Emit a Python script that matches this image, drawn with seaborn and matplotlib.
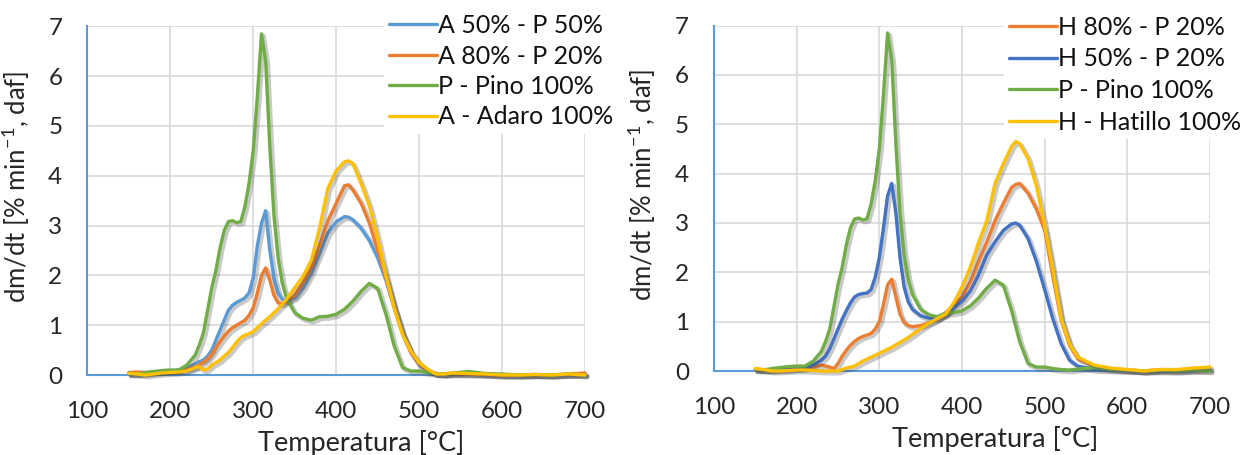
import numpy as np
import pandas as pd
import matplotlib
matplotlib.use("Agg")
import matplotlib.pyplot as plt
import matplotlib.patheffects as pe
from matplotlib.ticker import MultipleLocator
import seaborn as sns

# Temperature grid shared by all DTG curves [°C]
temperatura = [150, 160, 170, 180, 190, 200, 210, 220,
               230, 235, 240, 245, 250, 255, 260, 265, 270, 275, 280, 285,
               290, 295, 300, 305, 310, 315, 320, 325, 330, 335, 340,
               350, 360, 370, 380, 390, 400, 410, 415, 420, 430, 440, 450,
               460, 465, 470, 480, 490, 500, 510, 520, 530, 540,
               560, 580, 600, 620, 640, 660, 680, 700]

# dm/dt [% min-1, daf]
pino = [0.04, 0.02, 0.05, 0.07, 0.09, 0.10, 0.10, 0.20,
        0.40, 0.60, 0.85, 1.30, 1.75, 2.10, 2.55, 2.90, 3.08, 3.10, 3.06, 3.08,
        3.38, 3.85, 4.50, 5.60, 6.85, 6.30, 4.60, 3.20, 2.35, 1.85, 1.55,
        1.25, 1.14, 1.10, 1.17, 1.18, 1.22, 1.32, 1.40, 1.48, 1.68, 1.84, 1.74,
        1.22, 0.90, 0.58, 0.15, 0.08, 0.08, 0.05, 0.03, 0.02, 0.04,
        0.07, 0.03, 0.02, 0.00, 0.01, 0.00, 0.02, 0.00]

a50_p50 = [0.02, 0.03, 0.03, 0.05, 0.07, 0.08, 0.10, 0.14,
           0.22, 0.27, 0.30, 0.38, 0.50, 0.70, 0.90, 1.10, 1.30, 1.40, 1.46, 1.50,
           1.55, 1.65, 1.95, 2.60, 3.05, 3.30, 2.50, 1.95, 1.65, 1.52, 1.48,
           1.55, 1.75, 2.05, 2.45, 2.85, 3.08, 3.18, 3.17, 3.12, 2.95, 2.70, 2.35,
           1.90, 1.62, 1.35, 0.85, 0.45, 0.20, 0.08, 0.03, 0.02, 0.02,
           0.03, 0.02, 0.00, 0.00, 0.00, 0.00, 0.01, 0.02]

a80_p20 = [0.05, 0.06, 0.05, 0.06, 0.07, 0.08, 0.09, 0.11,
           0.16, 0.20, 0.26, 0.32, 0.42, 0.55, 0.67, 0.78, 0.88, 0.95, 1.00, 1.05,
           1.10, 1.20, 1.35, 1.65, 2.00, 2.15, 1.90, 1.60, 1.45, 1.43, 1.47,
           1.60, 1.85, 2.15, 2.60, 3.10, 3.45, 3.80, 3.82, 3.72, 3.45, 3.05, 2.50,
           1.95, 1.65, 1.35, 0.82, 0.45, 0.22, 0.10, 0.03, 0.02, 0.03,
           0.02, 0.01, 0.00, 0.00, 0.01, 0.00, 0.02, 0.04]

adaro = [0.03, 0.02, 0.00, 0.02, 0.04, 0.05, 0.06, 0.08,
         0.15, 0.17, 0.10, 0.12, 0.20, 0.25, 0.30, 0.38, 0.45, 0.55, 0.66, 0.75,
         0.80, 0.83, 0.87, 0.95, 1.03, 1.10, 1.17, 1.25, 1.33, 1.42, 1.52,
         1.75, 1.98, 2.30, 2.95, 3.75, 4.10, 4.28, 4.30, 4.25, 3.85, 3.40, 2.75,
         2.00, 1.68, 1.35, 0.82, 0.48, 0.25, 0.12, 0.02, 0.02, 0.04,
         0.03, 0.02, 0.00, 0.00, 0.01, 0.00, 0.02, 0.00]

h80_p20 = [0.02, 0.03, 0.02, 0.03, 0.04, 0.05, 0.06, 0.08,
           0.12, 0.10, 0.08, 0.05, 0.15, 0.30, 0.42, 0.52, 0.60, 0.66, 0.70, 0.73,
           0.76, 0.85, 1.00, 1.35, 1.75, 1.86, 1.50, 1.15, 0.98, 0.92, 0.90,
           0.92, 0.98, 1.05, 1.18, 1.33, 1.50, 1.80, 2.00, 2.22, 2.62, 3.05, 3.40,
           3.72, 3.78, 3.80, 3.60, 3.28, 2.85, 1.90, 1.02, 0.52, 0.25,
           0.10, 0.05, 0.02, 0.00, 0.03, 0.02, 0.03, 0.05]

h50_p20 = [0.03, 0.02, 0.02, 0.03, 0.04, 0.05, 0.07, 0.12,
           0.22, 0.30, 0.45, 0.65, 0.85, 1.05, 1.22, 1.38, 1.50, 1.55, 1.57, 1.58,
           1.65, 1.90, 2.30, 2.90, 3.55, 3.80, 3.20, 2.30, 1.70, 1.40, 1.25,
           1.12, 1.07, 1.08, 1.15, 1.28, 1.42, 1.62, 1.78, 1.95, 2.35, 2.62, 2.85,
           2.98, 3.00, 2.95, 2.68, 2.22, 1.65, 1.05, 0.55, 0.22, 0.10,
           0.03, 0.02, 0.01, 0.00, 0.00, 0.00, 0.01, 0.02]

hatillo = [0.05, 0.03, 0.00, 0.00, 0.01, 0.02, 0.02, 0.01,
           0.00, 0.00, 0.00, 0.00, 0.00, 0.03, 0.06, 0.08, 0.10, 0.15, 0.20, 0.24,
           0.28, 0.32, 0.36, 0.40, 0.44, 0.48, 0.53, 0.58, 0.63, 0.68, 0.74,
           0.86, 0.97, 1.06, 1.15, 1.38, 1.70, 2.10, 2.35, 2.60, 3.05, 3.80, 4.20,
           4.55, 4.65, 4.60, 4.30, 3.75, 2.95, 2.05, 1.05, 0.55, 0.28,
           0.12, 0.06, 0.03, 0.00, 0.03, 0.03, 0.06, 0.08]

left_series = ["A 50% - P 50%", "A 80% - P 20%", "P - Pino 100%", "A - Adaro 100%"]
left_values = [a50_p50, a80_p20, pino, adaro]
left_colors = ["#5B9BD5", "#ED7D31", "#70AD47", "#FFC000"]

right_series = ["H 80% - P 20%", "H 50% - P 20%", "P - Pino 100%", "H - Hatillo 100%"]
right_values = [h80_p20, h50_p20, pino, hatillo]
right_colors = ["#ED7D31", "#4472C4", "#70AD47", "#FFC000"]

x_label = "Temperatura [°C]"
y_label = r"dm/dt [% min$^{-1}$, daf]"

sns.set_style("white")
plt.rcParams["font.family"] = ["Lato", "DejaVu Sans"]
plt.rcParams["mathtext.fontset"] = "custom"
plt.rcParams["mathtext.rm"] = "Lato"
plt.rcParams["mathtext.it"] = "Lato:italic"
plt.rcParams["mathtext.default"] = "regular"
plt.rcParams["text.color"] = "#111111"

FS_TICK = 17.5
FS_LABEL = 19.5
FS_YLABEL = 18.5
FS_LEG = 18
AXIS_BLUE = "#5B9BD5"
GRID = "#D9D9D9"

fig = plt.figure(figsize=(12.4, 4.55), dpi=100)
ax_l = fig.add_axes([87.3 / 1240, 1 - 375 / 455, 497.7 / 1240, 348.6 / 455])
ax_r = fig.add_axes([714 / 1240, 1 - 371 / 455, 496 / 1240, 345.5 / 455])


def draw_panel(ax, names, values, colors, legend_xy, spacing, xlabel_x):
    frames = [pd.DataFrame({"T": temperatura, "v": v, "serie": n})
              for n, v in zip(names, values)]
    data = pd.concat(frames, ignore_index=True)
    sns.lineplot(data=data, x="T", y="v", hue="serie", hue_order=names,
                 palette=dict(zip(names, colors)), estimator=None, sort=False,
                 linewidth=2.4, legend=False, ax=ax)
    shadow = [pe.SimpleLineShadow(offset=(1.6, -1.6), shadow_color="#404040",
                                  alpha=0.28, linewidth=3.2), pe.Normal()]
    for line in ax.get_lines():
        line.set_path_effects(shadow)
        line.set_zorder(3)
        line.set_clip_on(False)

    ax.set_xlim(100, 700)
    ax.set_ylim(0, 7)
    ax.xaxis.set_major_locator(MultipleLocator(100))
    ax.xaxis.set_minor_locator(MultipleLocator(20))
    ax.yaxis.set_major_locator(MultipleLocator(1))
    ax.yaxis.set_minor_locator(MultipleLocator(0.2))
    ax.grid(True, which="major", color=GRID, linewidth=1.2, zorder=0)
    ax.set_axisbelow(True)

    for side in ("top", "right"):
        ax.spines[side].set_visible(False)
    for side in ("left", "bottom"):
        ax.spines[side].set_color(AXIS_BLUE)
        ax.spines[side].set_linewidth(1.5)

    ax.tick_params(axis="x", which="major", direction="inout", length=10,
                   width=1.1, color=AXIS_BLUE, labelsize=FS_TICK, pad=14)
    ax.tick_params(axis="y", which="major", direction="inout", length=12,
                   width=1.1, color=AXIS_BLUE, labelsize=FS_TICK, pad=12)
    ax.tick_params(which="minor", direction="in", length=4.8, width=1.1,
                   color=AXIS_BLUE)
    ax.tick_params(top=False, right=False, which="both")

    ax.set_xlabel(x_label, fontsize=FS_LABEL)
    ax.set_ylabel(y_label, fontsize=FS_YLABEL)
    ax.xaxis.set_label_coords(xlabel_x, -0.158)
    ax.yaxis.set_label_coords(-0.112, 0.54)

    leg = ax.legend(ax.get_lines(), names, loc="upper left",
                    bbox_to_anchor=legend_xy, bbox_transform=fig.transFigure,
                    fontsize=FS_LEG, frameon=True, fancybox=False, framealpha=1,
                    facecolor="white", edgecolor="none", borderpad=0.2,
                    borderaxespad=0, handlelength=1.9, handletextpad=0.05,
                    labelspacing=spacing)
    for h in leg.get_lines():
        h.set_linewidth(2.4)
        h.set_path_effects([])
    # white box hides the grid but stays under the curves
    leg.set_zorder(2.8)


draw_panel(ax_l, left_series, left_values, left_colors,
           (384 / 1240, 1 - 9 / 455), 0.3, 0.55)
draw_panel(ax_r, right_series, right_values, right_colors,
           (1004 / 1240, 1 - 11 / 455), 0.34, 0.566)

fig.savefig("out.png", dpi=100)
